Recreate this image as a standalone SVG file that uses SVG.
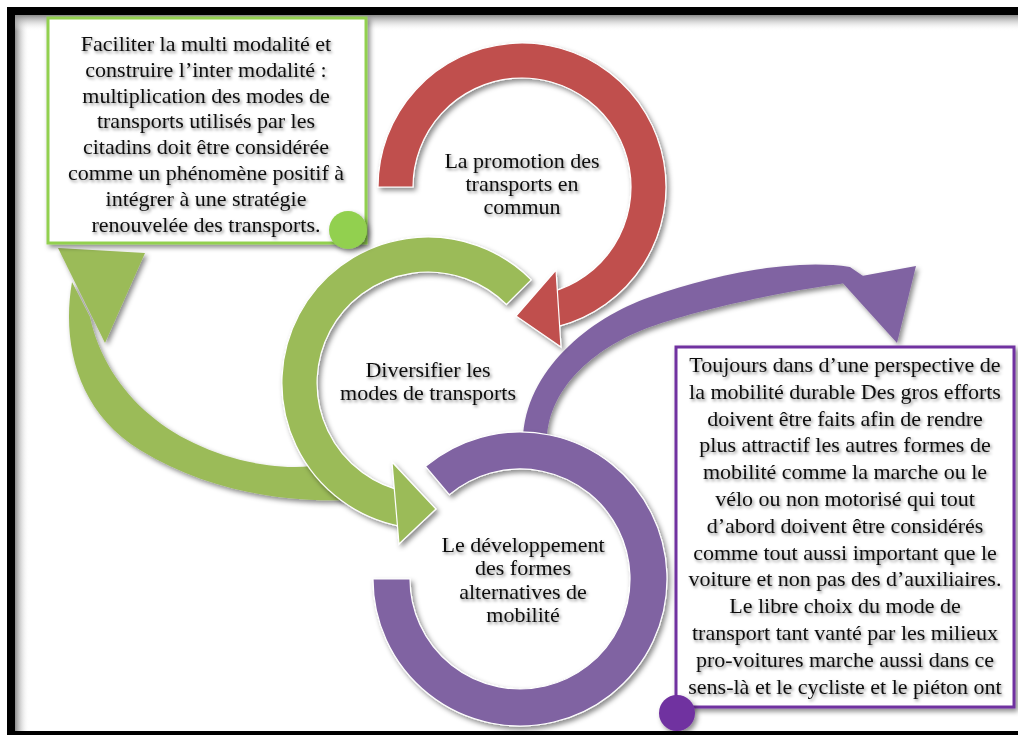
<svg xmlns="http://www.w3.org/2000/svg" width="1018" height="735" viewBox="0 0 1018 735">
  <defs>
    <filter id="shadow" x="-20%" y="-20%" width="140%" height="140%">
      <feDropShadow dx="2.5" dy="3" stdDeviation="2.5" flood-color="#000" flood-opacity="0.45"/>
    </filter>
    <filter id="tshadow" x="-10%" y="-30%" width="120%" height="160%">
      <feDropShadow dx="1.5" dy="2" stdDeviation="1.6" flood-color="#000" flood-opacity="0.45"/>
    </filter>
    <linearGradient id="gl" x1="0" y1="0" x2="1" y2="0">
      <stop offset="0" stop-color="#8a8a8a"/>
      <stop offset="1" stop-color="#fff" stop-opacity="0"/>
    </linearGradient>
    <linearGradient id="gt" x1="0" y1="0" x2="0" y2="1">
      <stop offset="0" stop-color="#8a8a8a"/>
      <stop offset="1" stop-color="#fff" stop-opacity="0"/>
    </linearGradient>
    <style>
      .txt { font-family: "Liberation Serif", "Times New Roman", serif; font-size: 22px; fill: #111; text-anchor: middle; }
      .red { fill: #C0504D; stroke: #fff; stroke-width: 1.2; }
      .green { fill: #9BBB59; stroke: #fff; stroke-width: 1.2; }
      .purple { fill: #8064A2; stroke: #fff; stroke-width: 1.2; }
      .nostroke { stroke: none; }
    </style>
  </defs>

  <!-- background and frame -->
  <rect x="0" y="0" width="1018" height="735" fill="#fff"/>
  <rect x="15" y="15" width="14" height="716" fill="url(#gl)"/>
  <rect x="15" y="15" width="1003" height="16" fill="url(#gt)"/>
  <rect x="11" y="11" width="1030" height="724" fill="none" stroke="#000" stroke-width="8"/>

  <!-- connectors -->
  <g id="connectors">
    <!-- big green curved arrow from the green ring to the green box -->
    <g filter="url(#shadow)">
      <path class="green nostroke" d="M 72,282 C 62,340 75,410 140,450 C 205,490 280,502 345,500 L 330,468 L 312,466 C 260,472 190,450 150,415 C 120,390 98,355 90,317 Z"/>
      <polygon class="green nostroke" points="58,248 145,253 105,343"/>
    </g>
    <!-- purple curved arrow from the purple ring to the purple box -->
    <g filter="url(#shadow)">
      <path class="purple nostroke" d="M 523,440 C 525,370 590,318 650,297 C 710,276 790,258 850,267 L 866,278 L 840,284 C 790,290 700,309 650,327 C 600,345 548,385 547,440 Z"/>
      <polygon class="purple nostroke" points="840,280 916,266 897,343"/>
    </g>
  </g>

  <!-- red node: La promotion des transports en commun -->
  <g id="node-red">
    <g filter="url(#shadow)">
      <path class="red" d="M 378,187 A 144,144 0 1 1 559.3,326.1 L 550.2,292.3 A 109,109 0 1 0 413,187 Z"/>
      <polygon class="red" points="556,270 561,347 516,316"/>
    </g>
    <g class="txt" filter="url(#tshadow)">
      <text x="522" y="168">La promotion des</text>
      <text x="522" y="191">transports en</text>
      <text x="522" y="214">commun</text>
    </g>
  </g>

  <!-- green node: Diversifier les modes de transports -->
  <g id="node-green">
    <g filter="url(#shadow)">
      <path class="green" d="M 531.2,279.8 A 146,146 0 1 0 400.1,526.3 L 406.8,492.0 A 111,111 0 1 1 506.5,304.5 Z"/>
      <polygon class="green" points="392,462 399,544 436,509"/>
    </g>
    <g class="txt" filter="url(#tshadow)">
      <text x="428" y="377">Diversifier les</text>
      <text x="428" y="400">modes de transports</text>
    </g>
  </g>

  <!-- purple node: Le développement des formes alternatives de mobilité -->
  <g id="node-purple">
    <g filter="url(#shadow)">
      <path class="purple" d="M 373,579 A 147,147 0 1 0 425.5,466.4 L 449.3,494.7 A 110,110 0 1 1 410,579 Z"/>
    </g>
    <g class="txt" filter="url(#tshadow)">
      <text x="523" y="552">Le développement</text>
      <text x="523" y="575">des formes</text>
      <text x="523" y="599">alternatives de</text>
      <text x="523" y="622">mobilité</text>
    </g>
  </g>

  <!-- green text box -->
  <g id="box-green">
    <rect x="48" y="18" width="318" height="225" fill="#fff" stroke="#92D050" stroke-width="3" filter="url(#shadow)"/>
    <g class="txt" filter="url(#tshadow)">
      <text x="206" y="51">Faciliter la multi modalité et</text>
      <text x="206" y="76.8">construire l’inter modalité :</text>
      <text x="206" y="102.6">multiplication des modes de</text>
      <text x="206" y="128.4">transports utilisés par les</text>
      <text x="206" y="154.2">citadins doit être considérée</text>
      <text x="206" y="180">comme un phénomène positif à</text>
      <text x="206" y="205.8">intégrer à une stratégie</text>
      <text x="206" y="231.6">renouvelée des transports.</text>
    </g>
    <circle cx="348" cy="230" r="19" fill="#92D050" filter="url(#shadow)"/>
  </g>

  <!-- purple text box -->
  <g id="box-purple">
    <rect x="676" y="347" width="338" height="360" fill="#fff" stroke="#7030A0" stroke-width="3" filter="url(#shadow)"/>
    <g class="txt" filter="url(#tshadow)">
      <text x="845" y="372">Toujours dans d’une perspective de</text>
      <text x="845" y="398.8">la mobilité durable Des gros efforts</text>
      <text x="845" y="425.6">doivent être faits afin de rendre</text>
      <text x="845" y="452.4">plus attractif les autres formes de</text>
      <text x="845" y="479.2">mobilité comme la marche ou le</text>
      <text x="845" y="506">vélo ou non motorisé qui tout</text>
      <text x="845" y="532.8">d’abord doivent être considérés</text>
      <text x="845" y="559.6">comme tout aussi important que le</text>
      <text x="845" y="586.4">voiture et non pas des d’auxiliaires.</text>
      <text x="845" y="613.2">Le libre choix du mode de</text>
      <text x="845" y="640">transport tant vanté par les milieux</text>
      <text x="845" y="666.8">pro-voitures marche aussi dans ce</text>
      <text x="845" y="693.6">sens-là et le cycliste et le piéton ont</text>
    </g>
    <circle cx="677" cy="713" r="18" fill="#7030A0" filter="url(#shadow)"/>
  </g>
</svg>
